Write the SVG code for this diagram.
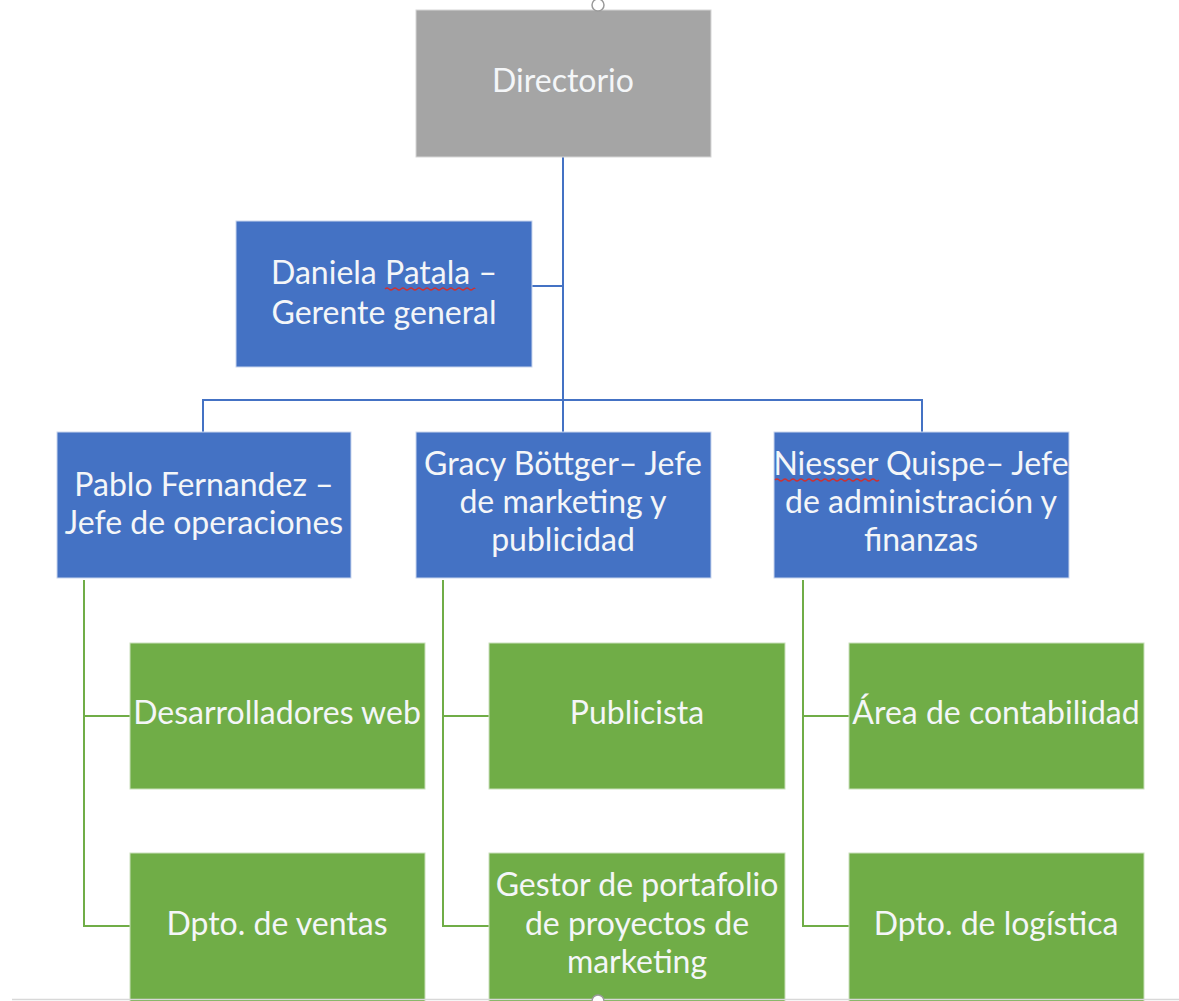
<svg xmlns="http://www.w3.org/2000/svg" width="1179" height="1001" viewBox="0 0 1179 1001">
<style>
text{font-family:Lato,"Liberation Sans",sans-serif;font-size:32px;fill:#f4f6f8;text-anchor:middle}
.gray{fill:#a5a5a5;stroke:#d6d6d6;stroke-width:1}
.blue{fill:#4472c4;stroke:#c9d6ee;stroke-width:1}
.green{fill:#70ad47;stroke:#c9e0bb;stroke-width:1}
.cb{stroke:#4472c4;stroke-width:2;fill:none}
.cg{stroke:#70ad47;stroke-width:2;fill:none}
.sq{stroke:#d03030;stroke-width:1.2;fill:none}
</style>
<rect width="1179" height="1001" fill="#ffffff"/>
<g id="connectors">
<path class="cb" d="M563 157V400M532 286H563M203 432V400H922V432"/>
<path class="cb" d="M563 400V432" stroke="#a9bde3"/>
<path class="cg" d="M84 580V926H130M84 716H130"/>
<path class="cg" d="M443 580V926H489M443 716H489"/>
<path class="cg" d="M803 580V926H849M803 716H849"/>
</g>
<g id="directorio"><rect class="gray" x="416" y="10" width="295" height="147"/><text x="563" y="92">Directorio</text></g>
<g id="gerente"><rect class="blue" x="236" y="221" width="296" height="146"/><text x="384" y="284">Daniela Patala –</text><text x="384" y="324">Gerente general</text><path class="sq" d="M385 289q2 -2 4 0t4 0t4 0t4 0t4 0t4 0t4 0t4 0t4 0t4 0t4 0t4 0t4 0t4 0t4 0t4 0t4 0t4 0t4 0t4 0t4 0t4 0t2 0"/></g>
<g id="pablo"><rect class="blue" x="57" y="432" width="294" height="146"/><text x="204" y="496">Pablo Fernandez –</text><text x="204" y="534">Jefe de operaciones</text></g>
<g id="gracy"><rect class="blue" x="416" y="432" width="295" height="146"/><text x="563" y="475">Gracy Böttger– Jefe</text><text x="563" y="513">de marketing y</text><text x="563" y="551">publicidad</text></g>
<g id="niesser"><rect class="blue" x="774" y="432" width="295" height="146"/><text x="921" y="475">Niesser Quispe– Jefe</text><text x="921" y="513">de administración y</text><text x="921" y="551">finanzas</text><path class="sq" d="M775 480q2 -2 4 0t4 0t4 0t4 0t4 0t4 0t4 0t4 0t4 0t4 0t4 0t4 0t4 0t4 0t4 0t4 0t4 0t4 0t4 0t4 0t4 0t4 0t4 0t4 0t4 0t4 0"/></g>
<g id="desarrolladores"><rect class="green" x="130" y="643" width="295" height="146"/><text x="277" y="724">Desarrolladores web</text></g>
<g id="ventas"><rect class="green" x="130" y="853" width="295" height="160"/><text x="277" y="935">Dpto. de ventas</text></g>
<g id="publicista"><rect class="green" x="489" y="643" width="296" height="146"/><text x="637" y="724">Publicista</text></g>
<g id="gestor"><rect class="green" x="489" y="853" width="296" height="160"/><text x="637" y="896">Gestor de portafolio</text><text x="637" y="935">de proyectos de</text><text x="637" y="973">marketing</text></g>
<g id="contabilidad"><rect class="green" x="849" y="643" width="295" height="146"/><text x="996" y="724">Área de contabilidad</text></g>
<g id="logistica"><rect class="green" x="849" y="853" width="295" height="160"/><text x="996" y="935">Dpto. de logística</text></g>
<line x1="12" y1="999.5" x2="1179" y2="999.5" stroke="#d8d8d8" stroke-width="1.5"/>
<circle cx="598" cy="5" r="6" fill="#ffffff" stroke="#9a9a9a" stroke-width="1.5"/>
<circle cx="598" cy="1001" r="6" fill="#ffffff" stroke="#9a9a9a" stroke-width="1.5"/>
</svg>
